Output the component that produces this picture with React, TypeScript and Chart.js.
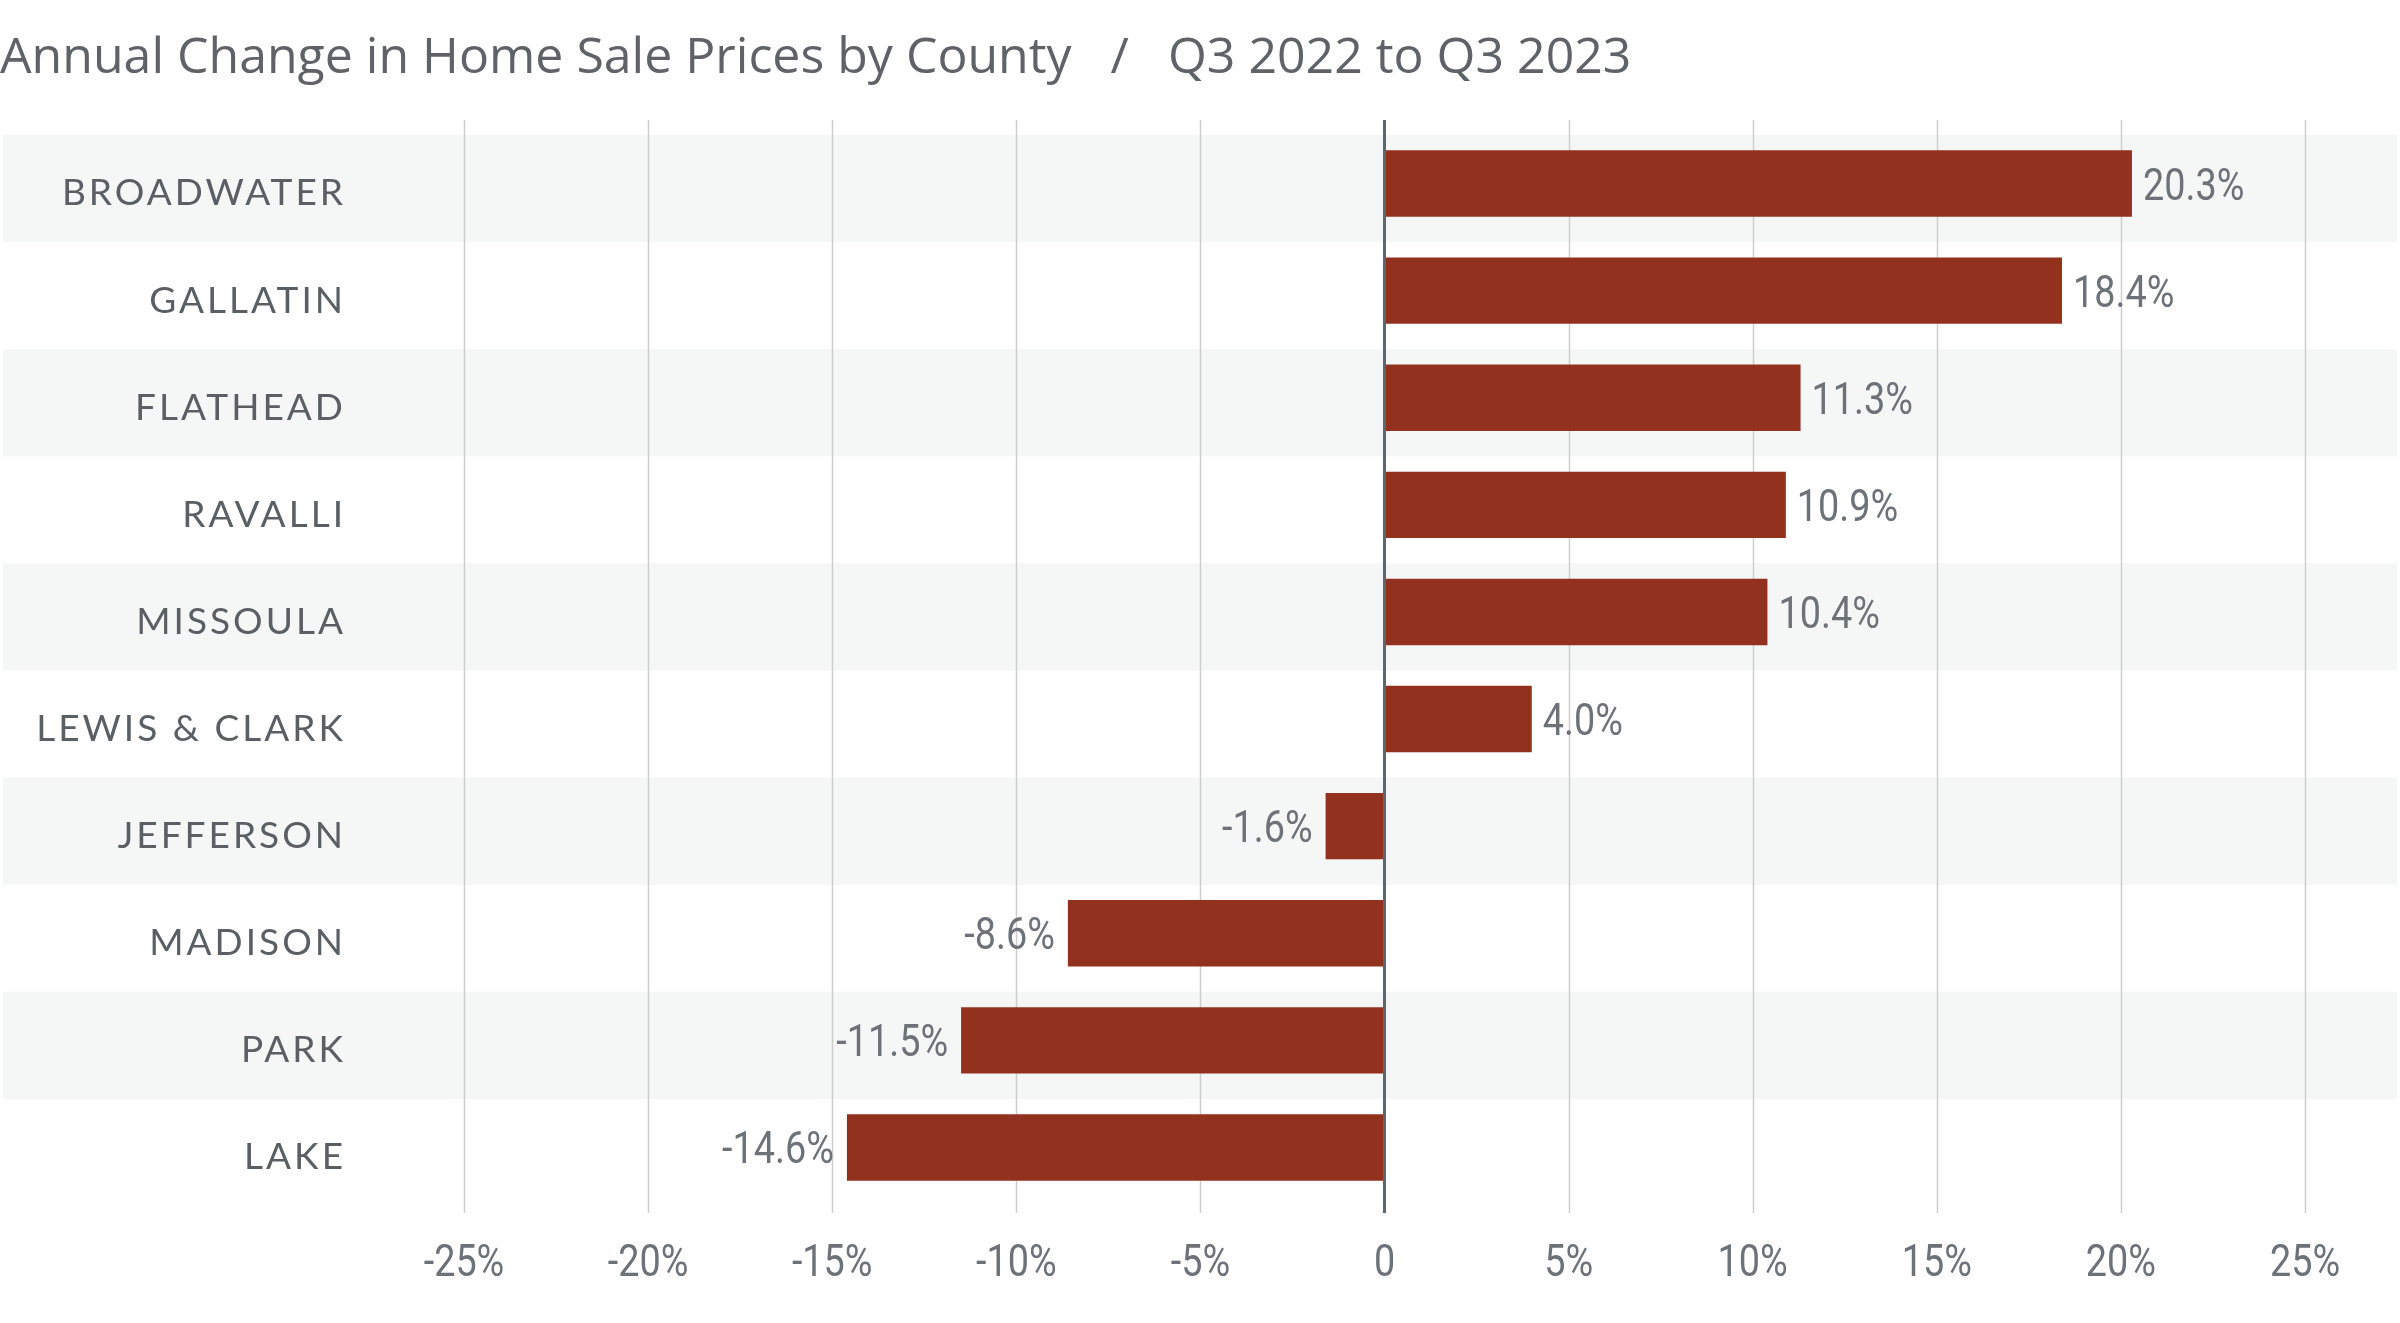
import React, { useEffect, useRef } from "react";
import { Chart, registerables } from "chart.js";

Chart.register(...registerables);

const titleText = "Annual Change in Home Sale Prices by County   /   Q3 2022 to Q3 2023";
const counties = ["BROADWATER", "GALLATIN", "FLATHEAD", "RAVALLI", "MISSOULA", "LEWIS & CLARK", "JEFFERSON", "MADISON", "PARK", "LAKE"];
const changes = [20.3, 18.4, 11.3, 10.9, 10.4, 4.0, -1.6, -8.6, -11.5, -14.6];
const xMin = -25;
const xMax = 25;
const xStep = 5;

const NUM_FONT = "45px Roboto, 'DejaVu Sans', sans-serif";
const NUM_SCALE = 0.84;
const SANS = "Lato, 'Open Sans', sans-serif";
const TITLE_FONT = "'Open Sans', 'Noto Sans', sans-serif";

const fmtTick = (v: number) => (v === 0 ? "0" : v + "%");

function condensedText(ctx: CanvasRenderingContext2D, text: string, x: number, y: number, align: CanvasTextAlign) {
  ctx.save();
  ctx.translate(x, y);
  ctx.scale(NUM_SCALE, 1);
  ctx.textAlign = align;
  ctx.fillText(text, 0, 0);
  ctx.restore();
}

const bandsPlugin = {
  id: "bands",
  beforeDraw(chart: any) {
    const { ctx } = chart;
    const y = chart.scales.y;
    const step = y.getPixelForValue(1) - y.getPixelForValue(0);
    ctx.save();
    ctx.fillStyle = "#f5f6f6";
    counties.forEach((_, i) => {
      if (i % 2 === 0) {
        const c = y.getPixelForValue(i);
        ctx.fillRect(3, c - step / 2 + 5, chart.width - 6, step);
      }
    });
    ctx.restore();
  },
  beforeDatasetsDraw(chart: any) {
    const { ctx, chartArea } = chart;
    const x = chart.scales.x;
    ctx.save();
    ctx.strokeStyle = "#cdcdcd";
    ctx.lineWidth = 1.5;
    x.ticks.forEach((t: any) => {
      if (t.value === 0) return;
      const px = Math.round(x.getPixelForValue(t.value)) + 0.5;
      ctx.beginPath();
      ctx.moveTo(px, chartArea.top - 10);
      ctx.lineTo(px, chartArea.bottom + 12);
      ctx.stroke();
    });
    ctx.restore();
  },
  afterDatasetsDraw(chart: any) {
    const { ctx, chartArea } = chart;
    const x = chart.scales.x;
    ctx.save();
    // zero line
    const z = x.getPixelForValue(0);
    ctx.strokeStyle = "#5f666b";
    ctx.lineWidth = 3;
    ctx.beginPath();
    ctx.moveTo(z, chartArea.top - 10);
    ctx.lineTo(z, chartArea.bottom + 12);
    ctx.stroke();
    // value labels
    const meta = chart.getDatasetMeta(0);
    ctx.font = NUM_FONT;
    ctx.fillStyle = "#6d7278";
    ctx.textBaseline = "alphabetic";
    meta.data.forEach((bar: any, i: number) => {
      const v = changes[i];
      const label = v.toFixed(1) + "%";
      if (v >= 0) condensedText(ctx, label, bar.x + 11, bar.y + 16, "left");
      else condensedText(ctx, label, bar.x - 13, bar.y + 16, "right");
    });
    // x tick labels
    x.ticks.forEach((t: any) => {
      condensedText(ctx, fmtTick(t.value), x.getPixelForValue(t.value), 1276, "center");
    });
    ctx.restore();
    (ctx as any).letterSpacing = "3px";
  },
  afterDraw(chart: any) {
    (chart.ctx as any).letterSpacing = "0px";
  },
};

export default function App() {
  const ref = useRef<HTMLCanvasElement>(null);
  useEffect(() => {
    document.body.style.margin = "0";
    const chart = new Chart(ref.current as HTMLCanvasElement, {
      type: "bar",
      data: {
        labels: counties,
        datasets: [
          {
            data: changes,
            backgroundColor: "#93311f",
            barPercentage: 0.62,
            categoryPercentage: 1,
            borderWidth: 0,
          },
        ],
      },
      options: {
        indexAxis: "y",
        animation: false,
        responsive: false,
        devicePixelRatio: 1,
        layout: { padding: { left: 0, right: 95, top: 0, bottom: 0 } },
        plugins: {
          legend: { display: false },
          tooltip: { enabled: false },
          title: {
            display: true,
            text: titleText,
            align: "start",
            color: "#5f6368",
            font: { family: TITLE_FONT, size: 50, weight: "normal" },
            padding: { top: 29, bottom: 41 },
          },
        },
        scales: {
          x: {
            min: xMin,
            max: xMax,
            grid: { display: false, drawTicks: false },
            border: { display: false },
            ticks: {
              display: false,
              stepSize: xStep,
              callback: (v: any) => fmtTick(Number(v)),
            },
            afterFit: (s: any) => {
              s.height = 122;
              s.paddingLeft = 0;
              s.paddingRight = 0;
            },
          },
          y: {
            grid: { display: false, drawTicks: false },
            border: { display: false },
            ticks: {
              z: 1,
              color: "#5a5f63",
              font: { family: SANS, size: 37 },
              padding: 118,
              labelOffset: 10,
            },
            afterFit: (s: any) => {
              s.width = 464;
              s.paddingTop = 0;
              s.paddingBottom = 0;
            },
          },
        },
      },
      plugins: [bandsPlugin],
    });
    return () => chart.destroy();
  }, []);
  return (
    <div style={{ width: 2400, height: 1323 }}>
      <canvas ref={ref} width={2400} height={1323} style={{ display: "block" }} />
    </div>
  );
}
